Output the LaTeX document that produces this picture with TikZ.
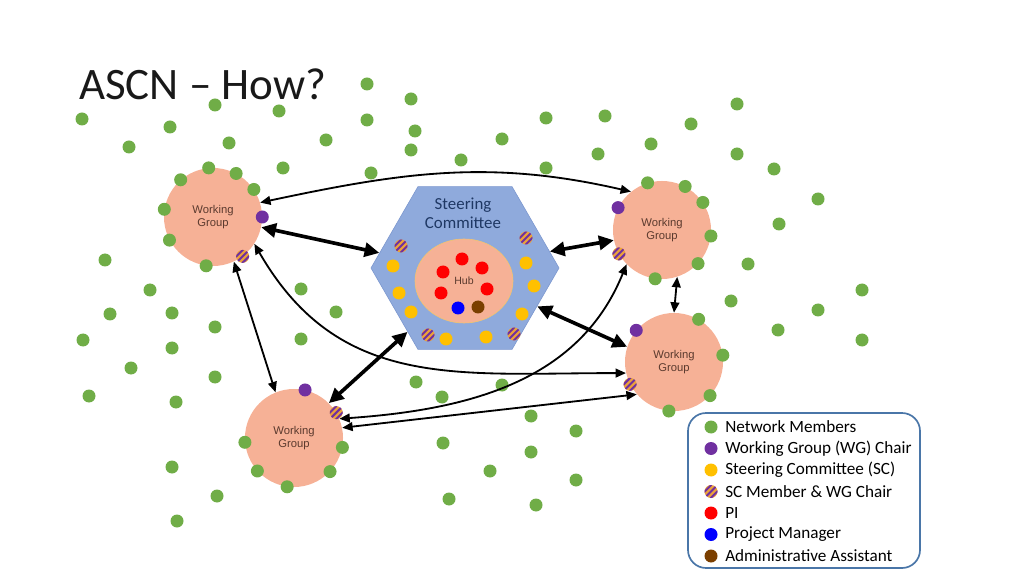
\documentclass[tikz,border=0pt]{standalone}
\usepackage{fontspec}
\setmainfont{Carlito}
\newfontfamily\labelfont{Liberation Sans}
\usetikzlibrary{positioning,arrows.meta,shapes.geometric}
\definecolor{netgreen}{HTML}{70AD47}
\definecolor{wgpurple}{HTML}{7030A0}
\definecolor{scyellow}{HTML}{FFC000}
\definecolor{scstripe}{HTML}{EBA23A}
\definecolor{pired}{HTML}{FF0000}
\definecolor{pmblue}{HTML}{0000FF}
\definecolor{aabrown}{HTML}{7B3F00}
\definecolor{wgfill}{HTML}{F6B196}
\definecolor{hexfill}{HTML}{8FAADC}
\definecolor{hexline}{HTML}{7A96CE}
\definecolor{hubline}{HTML}{F2C66D}
\definecolor{legline}{HTML}{4A76A8}
\definecolor{navy}{HTML}{1F3864}
\definecolor{wgtext}{HTML}{5B3A2E}

\begin{document}
\begin{tikzpicture}[x=0.025cm, y=-0.025cm,
  title/.style={font=\fontsize{32}{38}\selectfont, text=black!90, inner sep=0pt},
  wg/.style={circle, fill=wgfill, minimum size=2.45cm, inner sep=0pt,
    align=center, font=\labelfont\fontsize{8}{9.5}\selectfont, text=wgtext},
  hexa/.style={regular polygon, regular polygon sides=6, fill=hexfill,
    draw=hexline, minimum size=4.7cm, inner sep=0pt},
  hubdisc/.style={ellipse, fill=wgfill, draw=hubline, thin, inner sep=0pt,
    minimum width=2.45cm, minimum height=2.1cm,
    font=\labelfont\fontsize{7.5}{9}\selectfont, text=wgtext},
  sctitle/.style={align=center, font=\fontsize{12}{13.5}\selectfont, text=navy},
  member/.style={fill=netgreen},
  chair/.style={fill=wgpurple},
  scdot/.style={fill=scyellow},
  scwg/.style={fill=scstripe, path picture={
    \foreach \k in {-4.5,0,4.5}
      \draw[wgpurple, line width=1.4pt]
        ([shift={(\k pt-10pt,-10pt)}]path picture bounding box.center) -- ++(20pt,20pt);}},
  pidot/.style={fill=pired},
  pmdot/.style={fill=pmblue},
  aadot/.style={fill=aabrown},
  big/.style={{Triangle[length=3.7mm,width=3.5mm]}-{Triangle[length=3.7mm,width=3.5mm]},
    line width=2.6pt},
  link/.style={{Triangle[length=2.6mm,width=2.2mm]}-{Triangle[length=2.6mm,width=2.2mm]},
    line width=1.3pt},
  legbox/.style={draw=legline, line width=1.2pt, rounded corners=0.45cm},
  legtext/.style={anchor=west, font=\fontsize{12.2}{14}\selectfont, inner sep=0pt}
]
\useasboundingbox (0,0) rectangle (1024,576);

\node[title, anchor=base west] (title) at (79,100) {ASCN – How?};

% scattered network members
\foreach \p in {(82,119),(129,147),(170,127),(215,105),(229,143),(279,111),
  (283,168),(326,140),(367,84),(411,99),(367,120),(415,131),(411,150),
  (371,173),(461,160),(502,139),(546,118),(546,168),(605,116),(598,154),
  (651,144),(691,124),(737,104),(737,154),(774,169),(818,199),
  (779,224),(748,264),(862,290),(731,301),(818,310),(778,330),(862,340),
  (105,260),(150,290),(110,314),(172,313),(215,327),(83,340),(172,348),
  (131,368),(215,377),(89,396),(176,402),(301,289),(336,312),(301,339),
  (416,382),(442,397),(502,385),(531,416),(576,431),(443,443),(531,452),
  (490,471),(576,480),(449,499),(536,505),(172,467),(217,496),(177,521)}
  \fill[member] \p circle (6.5);

% working groups and steering committee
\node[wg] (wg1) at (213,217) {Working\\Group};
\node[wg] (wg2) at (662,230) {Working\\Group};
\node[wg] (wg3) at (674,362) {Working\\Group};
\node[wg] (wg4) at (294,438) {Working\\Group};
\node[hexa] (sc) at (465,268) {};
\node[sctitle] (scname) at (463,213) {Steering\\Committee};
\node[hubdisc] (hub) at (464,281) {Hub};

% connections
\draw[big] (wg1.-12) -- (sc.170);
\draw[big] (sc.11) -- (wg2.192);
\draw[big] (sc.-28) -- (wg3.162);
\draw[big] (wg4.45) -- (sc.228);
\draw[link] (wg1.17) to[out=12, in=167] (wg2.129);
\draw[link] (wg1.-65) -- (wg4.112);
\draw[link] (wg1.-33) to[out=-60, in=180, looseness=1.1] (wg3.193);
\draw[link] (wg2.224) to[out=248, in=4] (wg4.23);
\draw[link] (wg4.12) -- (wg3.221);
\draw[link] (wg2.-72) -- (wg3.90);

% members and chairs on the groups
\foreach \a in {95,131,62,34,171,208,262} \fill[member] (wg1.\a) circle (6.5);
\foreach \a in {107,62,34,-7,-43,-98} \fill[member] (wg2.\a) circle (6.5);
\foreach \a in {60,8,-43,-96} \fill[member] (wg3.\a) circle (6.5);
\foreach \a in {185,222,262,317,349} \fill[member] (wg4.\a) circle (6.5);
\fill[chair] (wg1.0) circle (6.5);
\fill[chair] (wg2.153) circle (6.5);
\fill[chair] (wg3.140) circle (6.5);
\fill[chair] (wg4.77) circle (6.5);
\fill[scwg] (wg1.-53) circle (6.5);
\fill[scwg] (wg2.209) circle (6.5);
\fill[scwg] (wg3.207) circle (6.5);
\fill[scwg] (wg4.31) circle (6.5);

% steering committee members
\foreach \p in {(393,266),(399,293),(411,312),(446,339),(486,337),(522,314),
  (534,286),(526,263)}
  \fill[scdot] \p circle (6.5);
\foreach \p in {(401,246),(526,238),(428,335),(514,334)}
  \fill[scwg] \p circle (6.5);

% hub
\foreach \p in {(462,259),(443,272),(482,268),(441,293),(487,289)}
  \fill[pidot] \p circle (6.5);
\fill[pmdot] (458,308) circle (6.5);
\fill[aadot] (478,307) circle (6.5);

% legend
\draw[legbox] (688,413) rectangle (920,568);
\foreach \s/\t [count=\i] in {member/Network Members,
  chair/Working Group (WG) Chair, scdot/Steering Committee (SC),
  scwg/SC Member \& WG Chair, pidot/PI, pmdot/Project Manager,
  aadot/Administrative Assistant}
{
  \fill[\s] (711,405.5+21.5*\i) circle (6.5);
  \node[legtext] (leg\i) at (725,405.5+21.5*\i) {\t};
}
\end{tikzpicture}
\end{document}
